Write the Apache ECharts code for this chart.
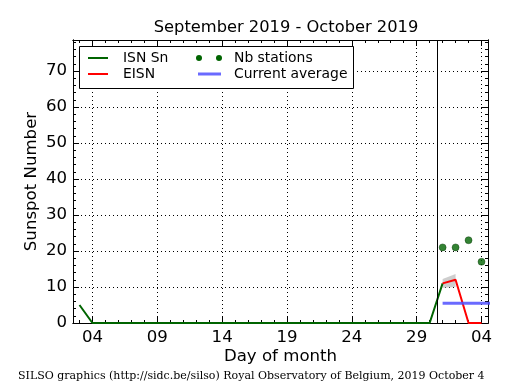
<!DOCTYPE html>
<html><head><meta charset="utf-8">
<script src="https://cdn.jsdelivr.net/npm/echarts@6/dist/echarts.min.js"></script>
<style>html,body{margin:0;padding:0;background:#fff}#c{width:515px;height:390px}</style>
</head><body><div id="c"></div>
<script>
// x values are day numbers counted from 1 September 2019 (31 = 1 October)
const xMin = 2.5, xMax = 34.5;
const yMin = 0, yMax = 78.6;
const xMajorTicks = [4, 9, 14, 19, 24, 29, 34];
const xTickLabels = ['04', '09', '14', '19', '24', '29', '04'];
const xMinorTicks = [3,4,5,6,7,8,9,10,11,12,13,14,15,16,17,18,19,20,21,22,23,24,25,26,27,28,29,30,31,32,33,34];
const yMajorTicks = [0, 10, 20, 30, 40, 50, 60, 70];
const yMinorTicks = [0,2,4,6,8,10,12,14,16,18,20,22,24,26,28,30,32,34,36,38,40,42,44,46,48,50,52,54,56,58,60,62,64,66,68,70,72,74,76,78];

const isnDays   = [3,4,5,6,7,8,9,10,11,12,13,14,15,16,17,18,19,20,21,22,23,24,25,26,27,28,29,30,31];
const isnValues = [5,0,0,0,0,0,0,0,0,0,0,0,0,0,0,0,0,0,0,0,0,0,0,0,0,0,0,0,11];
const eisnDays   = [31, 32, 33, 34];
const eisnValues = [11, 12, 0, 0];
const bandDays = [31, 32];
const bandLow  = [9.8, 10.0];
const bandHigh = [12.2, 13.6];
const stationDays   = [31, 32, 33, 34];
const stationValues = [21, 21, 23, 17];
const avgDays   = [31, 35];
const avgValues = [5.5, 5.5];
const todayLine = 30.62;

const FONT = 'DejaVu Sans';
const pairs = (xs, ys) => xs.map((x, i) => [x, ys[i]]);

function xAxisDef(pos, ticks, len, opts) {
  return Object.assign({
    type: 'value', min: xMin, max: xMax, position: pos, gridIndex: 0,
    axisLine: { show: true, onZero: false, lineStyle: { color: '#000', width: 1 } },
    axisTick: { show: true, inside: true, length: len, customValues: ticks, lineStyle: { color: '#000', width: 1 } },
    axisLabel: { show: false },
    splitLine: { show: false }
  }, opts || {});
}
function yAxisDef(pos, ticks, len, opts) {
  return Object.assign({
    type: 'value', min: yMin, max: yMax, position: pos, gridIndex: 0,
    axisLine: { show: true, onZero: false, lineStyle: { color: '#000', width: 1 } },
    axisTick: { show: true, inside: true, length: len, customValues: ticks, lineStyle: { color: '#000', width: 1 } },
    axisLabel: { show: false },
    splitLine: { show: false }
  }, opts || {});
}

const chart = echarts.init(document.getElementById('c'), null, { renderer: 'canvas' });

const option = {
  animation: false,
  backgroundColor: '#fff',
  title: {
    text: 'September 2019 - October 2019', left: 281, top: 15, textAlign: 'center',
    textStyle: { fontFamily: FONT, fontSize: 16.3, fontWeight: 'normal', color: '#000' }
  },
  grid: { left: 73, top: 40, right: 27, bottom: 67, containLabel: false },
  xAxis: [
    xAxisDef('bottom', xMajorTicks, 6, {
      name: 'Day of month', nameLocation: 'middle', nameGap: 25, nameMoveOverlap: false,
      nameTextStyle: { fontFamily: FONT, fontSize: 16.6, color: '#000' },
      axisLabel: { show: true, customValues: xMajorTicks, margin: 6,
        formatter: v => xTickLabels[xMajorTicks.indexOf(v)],
        fontFamily: FONT, fontSize: 16.6, color: '#000' },
      splitLine: { show: true, lineStyle: { color: '#000', width: 1, type: [1, 3] } }
    }),
    xAxisDef('bottom', xMinorTicks, 3),
    xAxisDef('top', xMajorTicks, 6),
    xAxisDef('top', xMinorTicks, 3)
  ],
  yAxis: [
    yAxisDef('left', yMajorTicks, 6, {
      name: 'Sunspot Number', nameLocation: 'middle', nameGap: 33, nameRotate: 90, nameMoveOverlap: false,
      nameTextStyle: { fontFamily: FONT, fontSize: 16.6, color: '#000' },
      axisLabel: { show: true, customValues: yMajorTicks, margin: 6,
        fontFamily: FONT, fontSize: 16.6, color: '#000' },
      splitLine: { show: true, lineStyle: { color: '#000', width: 1, type: [1, 3] } }
    }),
    yAxisDef('left', yMinorTicks, 3),
    yAxisDef('right', yMajorTicks, 6),
    yAxisDef('right', yMinorTicks, 3)
  ],
  series: [
    {
      type: 'custom', name: 'band', xAxisIndex: 0, yAxisIndex: 0, clip: true, z: 3,
      data: bandDays.map((d, i) => [d, bandLow[i], bandHigh[i]]),
      renderItem: function (params, api) {
        const i = params.dataIndex;
        if (i >= bandDays.length - 1) return null;
        const p = [
          api.coord([bandDays[i], bandLow[i]]),
          api.coord([bandDays[i + 1], bandLow[i + 1]]),
          api.coord([bandDays[i + 1], bandHigh[i + 1]]),
          api.coord([bandDays[i], bandHigh[i]])
        ];
        return { type: 'polygon', shape: { points: p }, style: { fill: 'rgba(185,185,185,0.7)' } };
      }
    },
    {
      type: 'line', name: 'ISN Sn', xAxisIndex: 0, yAxisIndex: 0, z: 4,
      data: pairs(isnDays, isnValues), showSymbol: false, symbol: 'none',
      lineStyle: { color: '#006400', width: 2 }, clip: true,
      markLine: {
        silent: true, symbol: ['none', 'none'], label: { show: false },
        lineStyle: { color: '#000', width: 1, type: 'solid' },
        data: [{ xAxis: todayLine }]
      }
    },
    {
      type: 'line', name: 'EISN', xAxisIndex: 0, yAxisIndex: 0, z: 5,
      data: pairs(eisnDays, eisnValues), showSymbol: false, symbol: 'none',
      lineStyle: { color: '#ff0000', width: 2 }, clip: true
    },
    {
      type: 'scatter', name: 'Nb stations', xAxisIndex: 0, yAxisIndex: 0, z: 6,
      data: pairs(stationDays, stationValues), symbol: 'circle', symbolSize: 7,
      itemStyle: { color: '#006400', borderColor: '#003000', borderWidth: 0.5 }
    },
    {
      type: 'line', name: 'Current average', xAxisIndex: 0, yAxisIndex: 0, z: 5,
      data: pairs(avgDays, avgValues), showSymbol: false, symbol: 'none',
      lineStyle: { color: 'rgba(80,80,255,0.85)', width: 3 }, clip: true
    }
  ],
  graphic: [
    { type: 'rect', z: 100, shape: { x: 79.5, y: 46.5, width: 274, height: 42 },
      style: { fill: '#fff', stroke: '#000', lineWidth: 1 } },
    { type: 'line', z: 101, shape: { x1: 88, y1: 58, x2: 108, y2: 58 }, style: { stroke: '#006400', lineWidth: 2 } },
    { type: 'text', z: 101, x: 123, y: 58.5, style: { text: 'ISN Sn', fontFamily: FONT, fontSize: 13.9, fill: '#000', verticalAlign: 'middle' } },
    { type: 'line', z: 101, shape: { x1: 88, y1: 74, x2: 108, y2: 74 }, style: { stroke: '#ff0000', lineWidth: 2 } },
    { type: 'text', z: 101, x: 123, y: 74.5, style: { text: 'EISN', fontFamily: FONT, fontSize: 13.9, fill: '#000', verticalAlign: 'middle' } },
    { type: 'circle', z: 101, shape: { cx: 199, cy: 58, r: 3 }, style: { fill: '#006400' } },
    { type: 'circle', z: 101, shape: { cx: 219, cy: 58, r: 3 }, style: { fill: '#006400' } },
    { type: 'text', z: 101, x: 234, y: 58.5, style: { text: 'Nb stations', fontFamily: FONT, fontSize: 13.9, fill: '#000', verticalAlign: 'middle' } },
    { type: 'line', z: 101, shape: { x1: 198, y1: 74, x2: 221, y2: 74 }, style: { stroke: 'rgba(80,80,255,0.85)', lineWidth: 3 } },
    { type: 'text', z: 101, x: 234, y: 74.5, style: { text: 'Current average', fontFamily: FONT, fontSize: 13.9, fill: '#000', verticalAlign: 'middle' } },
    { type: 'text', z: 101, x: 18, y: 376, style: { text: 'SILSO graphics (http://sidc.be/silso) Royal Observatory of Belgium, 2019 October 4', fontFamily: 'DejaVu Serif', fontSize: 11, fill: '#000', verticalAlign: 'middle' } }
  ]
};
chart.setOption(option);
</script>
</body></html>
